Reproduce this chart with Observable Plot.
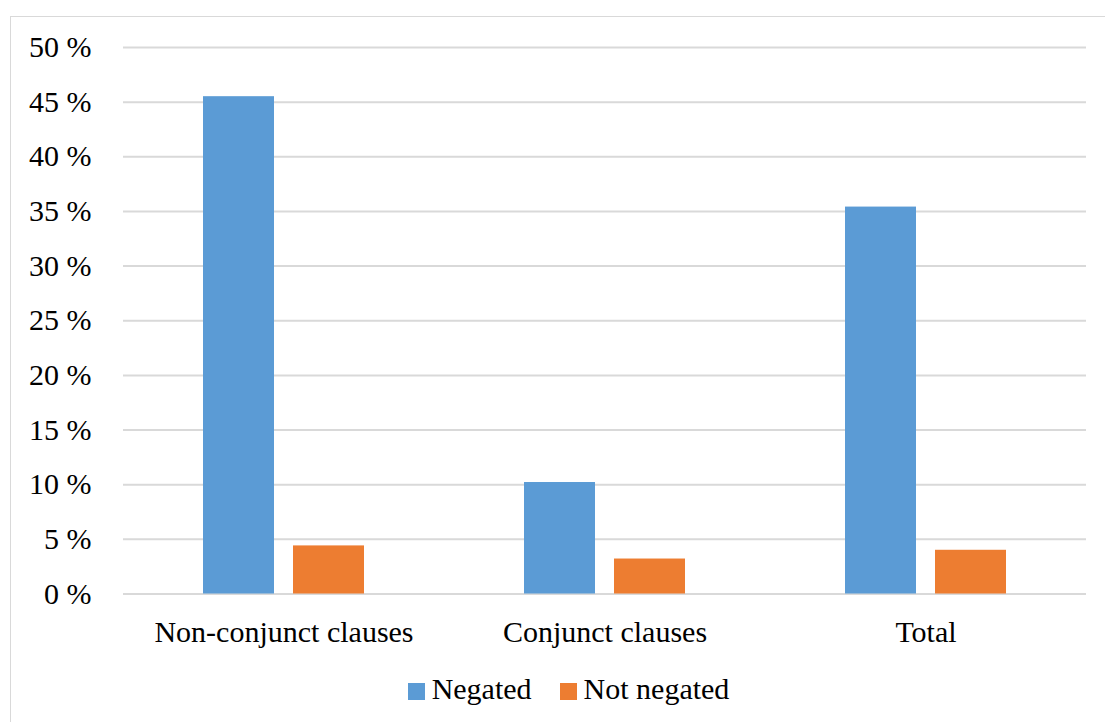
<!DOCTYPE html>
<html>
<head>
<meta charset="utf-8">
<script src="https://cdn.jsdelivr.net/npm/d3@7"></script>
<script src="https://cdn.jsdelivr.net/npm/@observablehq/plot@0.6"></script>
<style>
  html, body { margin: 0; padding: 0; background: #fff; }
  #wrap { position: relative; width: 1105px; height: 722px; overflow: hidden;
          font-family: "Times New Roman", "Liberation Serif", Tinos, "DejaVu Serif", serif; }
  #frame { position: absolute; left: 10px; top: 16px; right: -20px; bottom: -20px;
           border-left: 1.5px solid #d9d9d9; border-top: 1.5px solid #d9d9d9; pointer-events: none; }
  #chart { position: absolute; left: 0; top: 0; }
  #chart svg, #chart svg text { font-family: "Times New Roman", "Liberation Serif", Tinos, "DejaVu Serif", serif !important; }
  #legend { position: absolute; left: 0; width: 1105px; top: 672px; display: flex; justify-content: center;
            font-size: 30px; color: #000; padding-left: 32px; box-sizing: border-box; }
  .item { display: flex; align-items: center; margin: 0 14px; }
  .sw { width: 17px; height: 17px; margin-right: 7px; position: relative; top: 2px; }
</style>
</head>
<body>
<div id="wrap">
  <div id="chart"></div>
  <div id="legend"></div>
  <div id="frame"></div>
</div>
<script>
// Share of clauses by clause type and polarity
const categories = ["Non-conjunct clauses", "Conjunct clauses", "Total"];
const series = ["Negated", "Not negated"];
const negated = [45.5, 10.2, 35.4];
const notNegated = [4.4, 3.2, 4.0];
const colors = ["#5B9BD5", "#ED7D31"];
const yTicks = [0, 5, 10, 15, 20, 25, 30, 35, 40, 45, 50];

const rows = categories.flatMap((c, i) => [
  {category: c, series: series[0], value: negated[i]},
  {category: c, series: series[1], value: notNegated[i]}
]);

const chart = Plot.plot({
  width: 1105,
  height: 660,
  marginLeft: 122,
  marginRight: 18,
  marginTop: 47,
  marginBottom: 66.5,
  style: {fontSize: "30px", color: "#000", background: "none", overflow: "visible"},
  fx: {domain: categories, padding: 0, label: null, axis: "bottom", tickSize: 0, tickPadding: 27},
  x: {domain: series, axis: null, paddingInner: 0.209, paddingOuter: 0.872},
  y: {domain: [0, 50], ticks: yTicks, tickFormat: d => d + " %", tickSize: 0, tickPadding: 32, label: null},
  color: {domain: series, range: colors},
  marks: [
    Plot.ruleY(yTicks, {stroke: "#d9d9d9", strokeWidth: 2}),
    Plot.barY(rows, {fx: "category", x: "series", y: "value", fill: "series"})
  ]
});
document.getElementById("chart").appendChild(chart);

// Legend below the plot
const legend = document.getElementById("legend");
series.forEach((s, i) => {
  const item = document.createElement("div");
  item.className = "item";
  const sw = document.createElement("span");
  sw.className = "sw";
  sw.style.background = colors[i];
  const label = document.createElement("span");
  label.textContent = s;
  item.appendChild(sw);
  item.appendChild(label);
  legend.appendChild(item);
});
</script>
</body>
</html>
